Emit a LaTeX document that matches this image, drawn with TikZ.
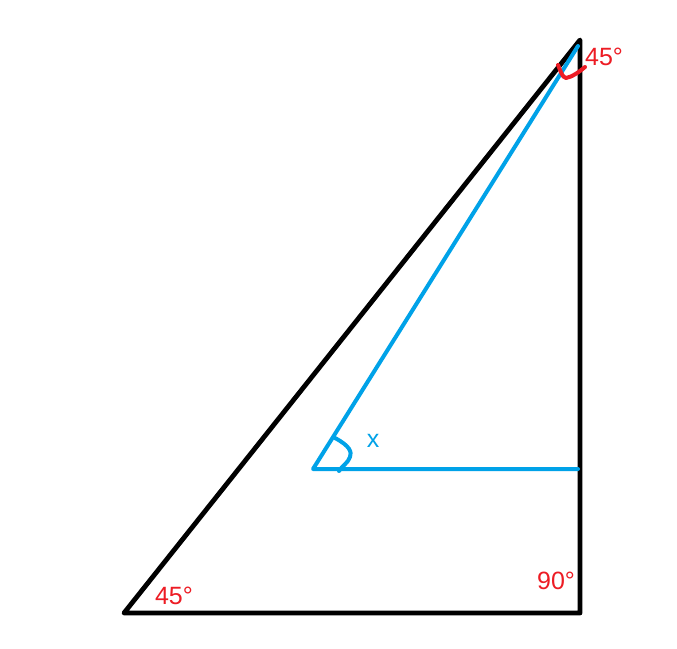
\documentclass[tikz,border=0pt]{standalone}
\usepackage{fontspec}
\setmainfont{Liberation Sans}
\begin{document}
\begin{tikzpicture}[x=1pt,y=-1pt,
  blk/.style={draw=black,line width=4.8pt,line cap=round,line join=round},
  blu/.style={draw=paintblue,line width=4pt,line cap=round,line join=round},
  redarc/.style={draw=paintred,line width=4pt,line cap=round,line join=round},
  redlbl/.style={text=paintred,font=\fontsize{25}{29}\selectfont,inner sep=0pt},
  blulbl/.style={text=paintblue,font=\fontsize{25}{29}\selectfont,inner sep=0pt}]
\definecolor{paintblue}{RGB}{0,162,232}
\definecolor{paintred}{RGB}{237,28,36}
\useasboundingbox (0,0) rectangle (677,648);
\fill[white] (0,0) rectangle (677,648);
% vertices
\coordinate (A) at (124,613);
\coordinate (B) at (580,613);
\coordinate (C) at (580,40);
\coordinate (D) at (313,469);
\coordinate (E) at (578,469);
\coordinate (F) at (578,46);
% main triangle
\draw[blk] (A) -- (B) -- (C) -- cycle;
% blue lines
\draw[blu] (F) -- (D) -- (E);
% blue angle arc
\coordinate (xa1) at (335,438);
\coordinate (xa2) at (350,457);
\coordinate (xa3) at (339,471);
\draw[blu] (xa1) .. controls (350,446) and (352,452) .. (xa2) .. controls (348,463) and (342,466) .. (xa3);
% red angle mark at top
\coordinate (r1) at (558,65);
\coordinate (r2) at (566,78);
\coordinate (r3) at (585,67);
\draw[redarc] (r1) .. controls (561,72) and (562,77) .. (r2) .. controls (572,77) and (579,72) .. (r3);
% labels
\node[redlbl] (l1) at (604,57) {45°};
\node[redlbl] (l2) at (174,596) {45°};
\node[redlbl] (l3) at (556,581) {90°};
\node[blulbl] (lx) at (373,441) {x};
\end{tikzpicture}
\end{document}
